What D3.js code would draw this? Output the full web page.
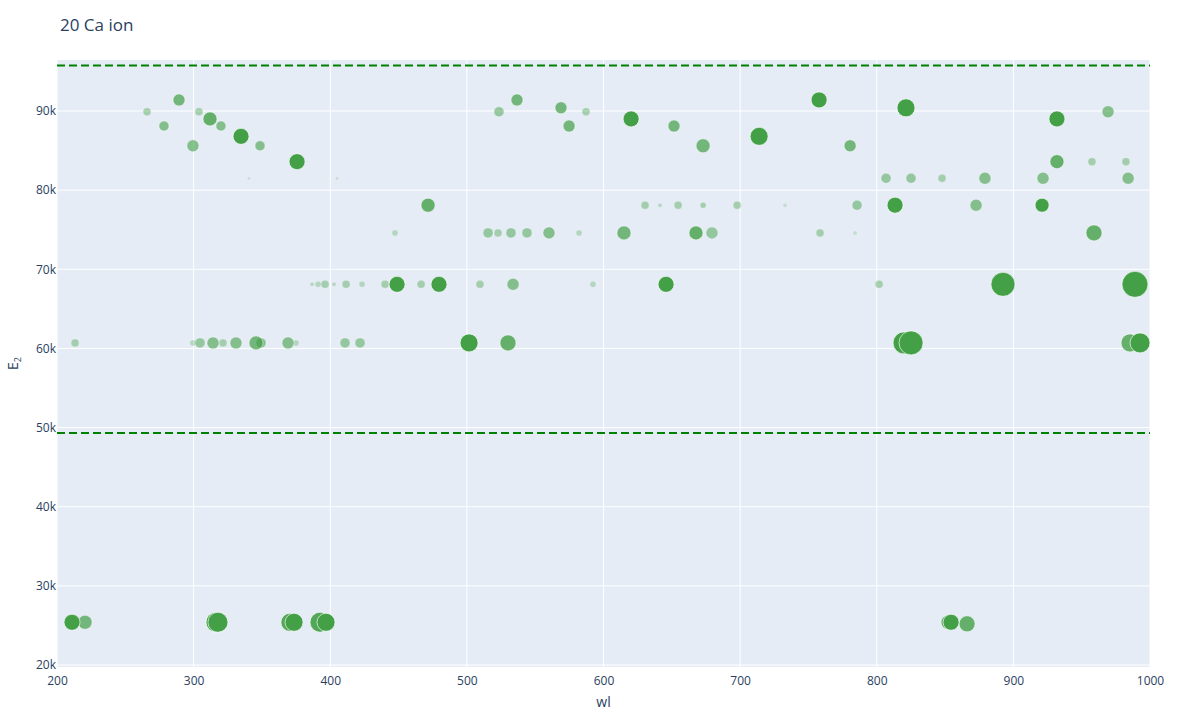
<!DOCTYPE html><html><head><meta charset="utf-8"><script src="https://cdn.jsdelivr.net/npm/d3@7"></script>
<style>body{margin:0;background:#fff;font-family:"Open Sans",Arial,sans-serif}</style></head><body><svg id="c" width="1200" height="720"></svg><script>
const wl=[211,220.5,316.4,317.8,370.5,373.5,392.5,396.9,852.2,854.4,866.1,
213.2,299.5,304.7,314.2,321.5,331,345.7,349.3,369.1,374.9,410.8,421.8,501.6,530.1,820,825.1,985.4,992.7,
386.7,391.1,396.2,402.8,411.6,423.3,440.1,448.9,466.5,479.6,509.6,533.8,592.3,645.8,801.7,892.4,989,
447.4,515.5,522.8,532.3,544,560.1,582.1,615,667.7,679.4,758.5,784.1,959,
471.6,630.4,641.4,654.6,672.9,697.8,732.9,785.6,813.4,872.7,921,
340.5,404.9,806.8,825.1,847.8,879.2,921.7,984,
375.7,931.9,957.5,982.4,
289.3,265.9,278.3,299.5,303.9,312,320,334.7,348.6,523.5,536.7,568.9,574.8,587.2,620.2,651.6,672.9,713.9,757.8,780.5,821.4,931.9,969.3];
const E2=[25400,25400,25400,25400,25400,25400,25400,25400,25400,25400,25200,
60700,60700,60700,60700,60700,60700,60700,60700,60700,60700,60700,60700,60700,60700,60700,60700,60700,60700,
68100,68100,68100,68100,68100,68100,68100,68100,68100,68100,68100,68100,68100,68100,68100,68100,68100,
74600,74600,74600,74600,74600,74600,74600,74600,74600,74600,74600,74600,74600,
78100,78100,78100,78100,78100,78100,78100,78100,78100,78100,78100,
81500,81500,81500,81500,81500,81500,81500,81500,
83600,83600,83600,83600,
91400,89900,88100,85600,89900,89000,88100,86800,85600,89900,91400,90400,88100,89900,89000,88100,85600,86800,91400,85600,90400,89000,89900];
const strength=[8,7,10,10,9,9,10,9,7,8,8,
4,3,5,6,4,6,7,5,6,3,5,5,9,8,11,12,9,10,
2,3,4,2,4,3,4,8,4,8,4,6,3,8,4,12,13,
3,5,4,5,5,6,3,7,7,6,4,2,8,
7,4,2,4,3,4,2,5,8,6,7,
1.5,1.5,5,5,4,6,6,6,
8,7,4,4,
6,4,5,6,4,7,5,8,5,5,6,6,6,4,8,6,7,9,8,6,9,8,6];
const alpha=[1,.7,1,1,.9,1,.9,1,.8,1,.8,
.4,.3,.5,.6,.4,.6,.7,.6,.6,.3,.5,.5,1,.8,1,1,.8,1,
.3,.3,.4,.3,.4,.3,.4,1,.4,1,.4,.6,.3,1,.4,1,1,
.3,.5,.4,.5,.5,.6,.3,.7,.8,.5,.4,.2,.8,
.8,.4,.3,.4,.4,.4,.2,.5,1,.6,1,
.2,.2,.5,.5,.4,.6,.6,.6,
1,.8,.4,.4,
.7,.4,.6,.6,.4,.8,.6,1,.6,.5,.7,.7,.7,.4,1,.7,.7,1,1,.7,1,1,.6];
const limits=[95750,49300];
const xTicks=[200,300,400,500,600,700,800,900,1000];
const yTicks=[20000,30000,40000,50000,60000,70000,80000,90000];
const svg=d3.select("#c");
const L=57,R=1150,T=60,B=667;
const x=d3.scaleLinear().domain([200,1000]).range([L,R]);
const y=d3.scaleLinear().domain([20000,90000]).range([665,111]);
svg.append("rect").attr("x",L).attr("y",T).attr("width",R-L).attr("height",B-T).attr("fill","#e5ecf6");
const g=svg.append("g");
xTicks.forEach(t=>g.append("line").attr("x1",x(t)).attr("x2",x(t)).attr("y1",T).attr("y2",B).attr("stroke","#fff").attr("stroke-width",1));
yTicks.forEach(t=>g.append("line").attr("x1",L).attr("x2",R).attr("y1",y(t)).attr("y2",y(t)).attr("stroke","#fff").attr("stroke-width",1));
const ax=svg.append("g").attr("transform",`translate(0,${B})`).call(d3.axisBottom(x).tickValues(xTicks).tickFormat(d=>String(d)).tickSize(0).tickPadding(9));
ax.select(".domain").remove();
ax.selectAll("text").attr("fill","#2a3f5f").attr("font-size",12).attr("font-family","Open Sans");
const ay=svg.append("g").attr("transform",`translate(${L},0)`).call(d3.axisLeft(y).tickValues(yTicks).tickFormat(d=>d/1000+"k").tickSize(0).tickPadding(1));
ay.select(".domain").remove();
ay.selectAll("text").attr("fill","#2a3f5f").attr("font-size",12).attr("font-family","Open Sans");
limits.forEach(v=>svg.append("line").attr("x1",L).attr("x2",R).attr("y1",y(v)).attr("y2",y(v)).attr("stroke","green").attr("stroke-width",2).attr("stroke-dasharray","8,4"));
const data=wl.map((w,i)=>({w,e:E2[i],s:strength[i],a:alpha[i]})).sort((a,b)=>a.a-b.a);
svg.append("g").selectAll("circle").data(data).join("circle").attr("cx",d=>x(d.w)).attr("cy",d=>y(d.e)).attr("r",d=>d.s)
 .attr("fill","rgb(67,160,71)").attr("fill-opacity",d=>d.a).attr("stroke","#fff").attr("stroke-opacity",d=>d.a*0.8).attr("stroke-width",0.8);
svg.append("text").attr("x",60).attr("y",31).text("20 Ca ion").attr("fill","#2a3f5f").attr("font-size",17).attr("font-family","Open Sans");
svg.append("text").attr("x",(L+R)/2).attr("y",707).attr("text-anchor","middle").text("wl").attr("fill","#2a3f5f").attr("font-size",14);
const yl=svg.append("text").attr("transform",`translate(18,${(T+B)/2}) rotate(-90)`).attr("text-anchor","middle").attr("fill","#2a3f5f").attr("font-size",14);
yl.append("tspan").text("E");yl.append("tspan").attr("font-size",9).attr("dy",3).text("2");
</script></body></html>
